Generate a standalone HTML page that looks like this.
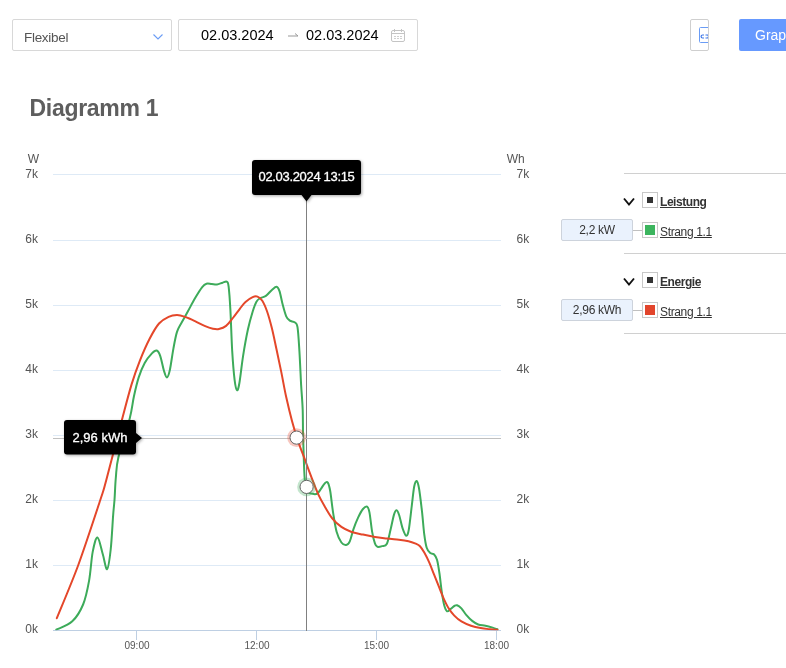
<!DOCTYPE html>
<html lang="de">
<head>
<meta charset="utf-8">
<title>Diagramm 1</title>
<style>
html,body{margin:0;padding:0;background:#fff;}
body{width:786px;height:668px;position:relative;overflow:hidden;font-family:"Liberation Sans",sans-serif;color:#555;}
.abs{position:absolute;box-sizing:border-box;}
.select{left:12px;top:19px;width:160px;height:32px;border:1px solid #d8d8d8;border-radius:2px;background:#fff;}
.select span{position:absolute;left:11px;top:10px;font-size:13.5px;line-height:16px;color:#555;letter-spacing:-0.3px;}
.range{left:178px;top:19px;width:240px;height:32px;border:1px solid #d8d8d8;border-radius:2px;background:#fff;}
.range .d{position:absolute;top:7px;font-size:14.5px;line-height:17px;color:#000;}
.iconbtn{left:690px;top:19px;width:19px;height:32px;border:1px solid #cfcfcf;border-radius:2px;background:#fff;overflow:hidden;}
.btn{left:739px;top:19px;width:60px;height:32px;background:#6699ff;border-radius:2px 0 0 2px;color:#fff;font-size:14px;line-height:32px;padding-left:16px;white-space:nowrap;}
h1{position:absolute;left:29.5px;top:94px;margin:0;font-size:23px;line-height:28px;font-weight:bold;color:#5e5e5e;letter-spacing:-0.3px;}
.ax{font-size:12px;fill:#555;font-family:"Liberation Sans",sans-serif;}
.axx{font-size:10px;fill:#555;font-family:"Liberation Sans",sans-serif;}
.tip{font-size:13px;fill:#fff;stroke:#fff;stroke-width:0.3px;font-family:"Liberation Sans",sans-serif;}
.sep{left:624px;width:170px;height:1px;background:#d0d0d0;}
.chk{width:16px;height:16px;border:1px solid #c8c8c8;background:#fff;left:642px;}
.chk i{position:absolute;display:block;}
.lbl{left:660px;font-size:12px;line-height:15px;color:#333;text-decoration:underline;white-space:nowrap;letter-spacing:-0.35px;}
.lbl.b{font-weight:bold;letter-spacing:-0.45px;}
.val{left:561px;width:72px;height:22px;border:1px solid #cdd3dc;border-radius:2px;background:#eaf2fd;font-size:12px;line-height:21px;text-align:center;color:#333;letter-spacing:-0.3px;}
.conn{left:633px;width:9px;height:1px;background:#c0c0c0;}
</style>
</head>
<body>
<div class="abs select"><span>Flexibel</span>
<svg class="abs" style="left:139px;top:13px" width="12" height="8" viewBox="0 0 12 8"><path d="M1.5 1.5 L6 6 L10.5 1.5" fill="none" stroke="#6a9cf5" stroke-width="1.1"/></svg>
</div>
<div class="abs range">
<span class="d" style="left:22px">02.03.2024</span>
<svg class="abs" style="left:108px;top:11px" width="12" height="8" viewBox="0 0 12 8"><path d="M1 5 H11 M8 2.5 L11 5" fill="none" stroke="#999" stroke-width="1"/></svg>
<span class="d" style="left:127px">02.03.2024</span>
<svg class="abs" style="left:212px;top:9px" width="14" height="13" viewBox="0 0 14 13"><rect x="0.5" y="1.5" width="13" height="11" rx="1.5" fill="none" stroke="#c4c4c4"/><path d="M0.5 4.5 H13.5 M3.5 0 V3 M10.5 0 V3" stroke="#c4c4c4" fill="none"/><path d="M3 7.5 H5 M6 7.5 H8 M9 7.5 H11 M3 9.5 H5 M6 9.5 H8 M9 9.5 H11" stroke="#d0d0d0" fill="none"/></svg>
</div>
<div class="abs iconbtn">
<svg class="abs" style="left:8px;top:7px" width="12" height="17" viewBox="0 0 12 17"><rect x="0.5" y="0.5" width="14" height="15" rx="1" fill="none" stroke="#6a9cf5"/><path d="M5 8 H3.6 a1.5 1.5 0 0 0 0 3 H5 M6.5 8 H8 a1.5 1.5 0 0 1 0 3 H6.5" stroke="#3f78e8" stroke-width="1.2" fill="none"/></svg>
</div>
<div class="abs btn">Graph</div>
<h1>Diagramm 1</h1>

<svg class="abs" style="left:0;top:140px" width="560" height="528" viewBox="0 140 560 528">
<defs><clipPath id="cp"><rect x="53" y="170" width="448" height="460.3"/></clipPath><filter id="sh" x="-10%" y="-10%" width="130%" height="140%"><feDropShadow dx="1" dy="1" stdDeviation="1.5" flood-color="#000" flood-opacity="0.35"/></filter></defs>
<g stroke="#deeaf6" stroke-width="1" shape-rendering="crispEdges">
<path d="M53 174.5H501 M53 240.5H501 M53 305.5H501 M53 370.5H501 M53 435.5H501 M53 500.5H501 M53 565.5H501"/>
</g>
<path d="M53 630.5H501 M136.5 630.5V640 M256.5 630.5V640 M376.5 630.5V640 M496.5 630.5V640" stroke="#becfe3" stroke-width="1" fill="none" shape-rendering="crispEdges"/>
<g class="ax" text-anchor="end">
<text x="39" y="162.8">W</text>
<text x="38" y="177.7">7k</text><text x="38" y="242.7">6k</text><text x="38" y="307.7">5k</text><text x="38" y="372.7">4k</text><text x="38" y="437.7">3k</text><text x="38" y="502.7">2k</text><text x="38" y="567.7">1k</text><text x="38" y="632.7">0k</text>
</g>
<g class="ax" text-anchor="start">
<text x="506.8" y="162.8">Wh</text>
<text x="516.6" y="177.7">7k</text><text x="516.6" y="242.7">6k</text><text x="516.6" y="307.7">5k</text><text x="516.6" y="372.7">4k</text><text x="516.6" y="437.7">3k</text><text x="516.6" y="502.7">2k</text><text x="516.6" y="567.7">1k</text><text x="516.6" y="632.7">0k</text>
</g>
<g class="axx" text-anchor="middle">
<text x="137" y="649.1">09:00</text><text x="257" y="649.1">12:00</text><text x="376.5" y="649.1">15:00</text><text x="496.5" y="649.1">18:00</text>
</g>
<g clip-path="url(#cp)"><path d="M56.3,629.7 C59.0,628.3 67.8,625.5 72.3,621.3 C76.8,617.1 80.3,611.3 83.1,604.5 C85.9,597.7 87.5,589.4 89.1,580.6 C90.7,571.8 91.3,559.1 92.7,551.9 C94.1,544.7 95.8,537.1 97.5,537.5 C99.2,537.9 101.2,549.0 102.8,554.3 C104.4,559.6 105.8,569.9 107.1,569.1 C108.4,568.3 109.7,558.4 110.7,549.5 C111.7,540.6 112.5,524.1 113.1,515.9 C113.7,507.6 114.0,506.3 114.5,500.0 C115.0,493.7 115.1,485.1 115.8,478.0 C116.5,470.9 116.1,467.0 118.4,457.2 C120.7,447.4 127.0,429.1 129.6,419.0 C132.2,408.9 132.4,403.4 133.9,396.5 C135.4,389.6 136.9,383.0 138.7,377.4 C140.5,371.8 142.5,367.0 144.7,363.0 C146.9,359.0 149.9,355.5 151.9,353.4 C153.9,351.3 155.2,350.1 156.6,350.5 C158.0,350.9 159.0,352.5 160.2,355.8 C161.4,359.1 162.7,366.6 163.8,370.2 C164.9,373.8 165.9,377.4 166.9,377.4 C167.9,377.4 168.7,375.0 169.8,370.2 C170.9,365.4 172.2,355.0 173.4,348.6 C174.6,342.2 175.6,336.3 177.0,331.9 C178.4,327.5 180.0,325.7 181.8,322.3 C183.6,318.9 185.6,315.5 187.8,311.5 C190.0,307.5 192.6,302.4 195.0,298.3 C197.4,294.2 200.3,289.5 202.2,287.1 C204.1,284.7 204.9,284.2 206.5,283.7 C208.1,283.2 209.9,283.9 211.7,284.0 C213.4,284.1 215.2,284.6 217.0,284.4 C218.8,284.2 221.0,283.1 222.6,282.7 C224.2,282.2 225.7,281.1 226.7,281.7 C227.7,282.3 228.0,281.6 228.6,286.3 C229.2,291.0 229.8,299.2 230.4,310.0 C231.0,320.8 231.5,339.4 232.2,351.0 C232.9,362.6 233.8,373.3 234.6,379.8 C235.4,386.3 236.2,389.6 237.0,390.1 C237.8,390.6 238.4,388.7 239.4,383.0 C240.4,377.3 241.7,364.7 243.1,355.8 C244.5,346.9 246.3,336.9 247.9,329.5 C249.5,322.1 251.3,316.1 252.7,311.5 C254.1,306.9 255.1,304.1 256.3,301.9 C257.5,299.7 258.3,299.3 259.9,298.3 C261.5,297.3 263.9,297.3 265.9,295.9 C267.9,294.5 270.1,291.4 271.9,289.9 C273.7,288.4 275.3,286.6 276.6,286.8 C277.9,287.0 278.5,288.2 279.5,291.1 C280.5,294.0 281.5,300.1 282.6,304.3 C283.7,308.5 285.0,313.6 286.2,316.3 C287.4,319.0 288.4,319.6 289.8,320.6 C291.2,321.6 293.3,321.2 294.6,322.3 C295.9,323.4 296.7,322.3 297.5,327.1 C298.3,331.9 298.8,341.4 299.4,351.0 C300.0,360.6 300.6,374.8 301.1,384.6 C301.7,394.4 302.4,401.4 302.7,410.0 C303.0,418.6 302.8,425.6 303.1,435.9 C303.4,446.2 303.9,463.5 304.3,471.9 C304.7,480.3 304.9,482.8 305.5,486.2 C306.1,489.6 306.5,490.9 307.9,492.2 C309.3,493.5 312.3,493.9 313.9,494.1 C315.5,494.3 316.3,494.3 317.5,493.4 C318.7,492.5 319.9,490.3 321.1,488.6 C322.3,486.9 323.6,484.4 324.7,483.4 C325.8,482.4 326.9,481.3 327.8,482.6 C328.7,483.9 329.3,486.0 330.2,491.0 C331.1,496.0 332.0,505.8 333.1,512.6 C334.2,519.4 335.2,526.7 336.6,531.7 C338.0,536.7 339.8,540.3 341.4,542.5 C343.0,544.7 344.8,545.1 346.2,544.9 C347.6,544.7 348.6,543.9 349.8,541.3 C351.0,538.7 352.0,533.3 353.4,529.3 C354.8,525.3 356.6,520.8 358.2,517.4 C359.8,514.0 361.5,510.8 363.0,509.0 C364.5,507.2 366.0,506.0 367.1,506.6 C368.2,507.2 368.7,508.4 369.5,512.6 C370.3,516.8 371.2,526.5 372.1,531.7 C373.0,536.9 374.1,541.2 375.0,543.7 C375.9,546.2 376.2,546.4 377.4,546.8 C378.6,547.2 380.6,546.6 382.2,546.1 C383.8,545.6 385.5,546.5 386.9,543.7 C388.3,540.9 389.4,534.4 390.6,529.5 C391.8,524.6 393.0,517.8 394.0,514.6 C395.0,511.4 395.7,510.1 396.6,510.2 C397.5,510.3 398.2,512.2 399.2,515.2 C400.2,518.2 401.4,525.0 402.6,528.4 C403.8,531.8 405.2,535.6 406.2,535.8 C407.2,536.0 407.9,534.6 408.8,529.6 C409.7,524.6 410.9,512.8 411.8,505.6 C412.7,498.4 413.4,490.6 414.2,486.5 C415.0,482.4 415.9,480.7 416.7,481.0 C417.5,481.3 418.1,483.4 419.0,488.3 C419.9,493.2 421.0,503.0 421.9,510.7 C422.8,518.4 423.5,528.5 424.3,534.7 C425.1,540.9 425.7,544.7 426.7,547.8 C427.7,550.9 429.1,552.0 430.3,553.1 C431.5,554.2 432.8,553.2 433.9,554.3 C435.0,555.4 436.1,556.7 437.0,559.8 C437.9,562.9 438.6,567.6 439.4,573.0 C440.2,578.4 441.0,586.8 441.8,592.2 C442.6,597.6 443.3,602.1 444.2,605.3 C445.1,608.5 446.0,610.7 447.1,611.3 C448.2,611.9 449.5,609.8 450.7,608.9 C451.9,608.0 453.2,606.6 454.3,606.0 C455.4,605.4 455.9,604.9 457.1,605.3 C458.3,605.7 459.9,606.8 461.4,608.4 C462.9,610.0 464.4,612.8 466.2,614.9 C468.0,617.0 470.2,619.3 472.2,620.9 C474.2,622.5 476.0,623.7 478.2,624.5 C480.4,625.3 483.0,625.2 485.4,625.7 C487.8,626.2 490.6,627.0 492.6,627.6 C494.6,628.2 496.6,629.0 497.4,629.3" fill="none" stroke="#3dab5a" stroke-width="2" stroke-linejoin="round" stroke-linecap="round"/>
<path d="M56.8,618.2 C60.4,609.3 71.0,584.7 78.3,565.0 C85.5,545.3 95.6,514.2 100.3,500.0 C105.0,485.8 102.7,493.3 106.3,480.0 C109.9,466.7 117.7,435.9 121.9,420.0 C126.1,404.1 128.5,394.5 131.5,384.6 C134.5,374.7 136.9,368.2 139.9,360.6 C142.9,353.0 146.3,345.2 149.5,339.0 C152.7,332.8 155.8,327.2 159.0,323.5 C162.2,319.8 165.6,318.2 168.6,316.8 C171.6,315.4 174.2,315.1 177.0,315.1 C179.8,315.1 182.4,316.0 185.4,317.0 C188.4,318.0 191.8,319.6 195.0,321.1 C198.2,322.6 201.6,324.6 204.6,325.9 C207.6,327.2 210.5,328.2 212.9,328.7 C215.3,329.2 216.7,329.5 218.9,329.0 C221.1,328.5 223.7,327.8 226.1,325.9 C228.5,324.0 231.0,320.4 233.3,317.5 C235.6,314.6 238.0,311.2 240.0,308.6 C242.0,306.0 243.4,303.8 245.5,301.9 C247.6,300.0 250.7,298.0 252.7,297.1 C254.7,296.2 255.9,296.0 257.5,296.6 C259.1,297.2 260.7,298.2 262.3,300.7 C263.9,303.2 265.5,306.9 267.1,311.5 C268.7,316.1 270.3,321.9 271.9,328.3 C273.5,334.7 275.0,342.4 276.6,349.8 C278.2,357.2 279.8,364.7 281.4,372.6 C283.0,380.5 284.4,388.9 286.2,397.0 C288.0,405.1 290.0,413.5 292.0,421.0 C294.0,428.5 296.1,435.4 298.3,441.9 C300.5,448.4 302.9,454.1 305.0,459.9 C307.1,465.7 309.0,470.8 311.2,476.6 C313.4,482.4 316.0,489.4 318.4,494.6 C320.8,499.8 323.2,503.8 325.5,507.8 C327.8,511.8 329.8,515.4 332.4,518.6 C335.0,521.8 338.3,524.7 341.4,526.9 C344.5,529.1 347.4,530.4 351.0,531.7 C354.6,533.0 359.0,533.7 363.0,534.6 C367.0,535.5 371.0,536.3 375.0,537.0 C379.0,537.7 382.9,538.1 386.9,538.6 C390.9,539.1 395.3,539.4 398.9,539.8 C402.5,540.2 405.7,540.6 408.5,541.2 C411.3,541.8 413.8,542.8 415.7,543.6 C417.6,544.4 418.6,544.7 420.0,546.2 C421.4,547.7 422.8,549.9 424.3,552.6 C425.8,555.3 427.5,558.6 429.1,562.2 C430.7,565.8 432.3,570.2 433.9,574.2 C435.5,578.2 437.1,582.2 438.7,586.2 C440.3,590.2 441.9,594.5 443.5,598.1 C445.1,601.7 446.5,604.8 448.3,607.7 C450.1,610.6 452.1,613.3 454.3,615.6 C456.5,617.9 458.6,619.7 461.4,621.4 C464.2,623.1 467.8,624.6 471.0,625.7 C474.2,626.8 477.4,627.5 480.6,628.1 C483.8,628.7 487.4,629.0 490.2,629.3 C493.0,629.6 496.2,629.7 497.4,629.8" fill="none" stroke="#e4472a" stroke-width="2" stroke-linejoin="round" stroke-linecap="round"/></g>
<path d="M306.5 200V630.5" stroke="#808080" stroke-width="1" shape-rendering="crispEdges"/>
<path d="M53 438.5H501" stroke="#c0c0c0" stroke-width="1" shape-rendering="crispEdges"/>
<circle cx="296.6" cy="437.6" r="9.4" fill="#e4472a" fill-opacity="0.3"/>
<circle cx="296.6" cy="437.6" r="6.6" fill="#fff" stroke="#666" stroke-width="1"/>
<circle cx="306.6" cy="486.9" r="9.4" fill="#3dab5a" fill-opacity="0.3"/>
<circle cx="306.6" cy="486.9" r="6.6" fill="#fff" stroke="#666" stroke-width="1"/>
<g filter="url(#sh)">
<path d="M255 160H358a3 3 0 0 1 3 3V192a3 3 0 0 1 -3 3H311.5L306.5 201.5L301.5 195H255a3 3 0 0 1 -3 -3V163a3 3 0 0 1 3 -3Z" fill="#000"/>
<path d="M67 420H133a3 3 0 0 1 3 3V433L142 438L136 443V451.5a3 3 0 0 1 -3 3H67a3 3 0 0 1 -3 -3V423a3 3 0 0 1 3 -3Z" fill="#000"/>
</g>
<text class="tip" x="306.5" y="181" text-anchor="middle" letter-spacing="-0.33">02.03.2024 13:15</text>
<text class="tip" x="100" y="441.6" text-anchor="middle">2,96 kWh</text>
</svg>

<div class="abs sep" style="top:173px"></div>
<svg class="abs" style="left:622px;top:196px" width="14" height="11" viewBox="0 0 14 11"><path d="M2 2.5 L7 8.5 L12 2.5" fill="none" stroke="#111" stroke-width="1.9"/></svg>
<div class="abs chk" style="top:192px"><i style="left:4px;top:4px;width:6px;height:6px;background:#333"></i></div>
<div class="abs lbl b" style="top:195px">Leistung</div>
<div class="abs val" style="top:219px">2,2 kW</div>
<div class="abs conn" style="top:230px"></div>
<div class="abs chk" style="top:222px"><i style="left:2px;top:2px;width:10px;height:10px;background:#3cb55e"></i></div>
<div class="abs lbl" style="top:224.6px">Strang 1.1</div>
<div class="abs sep" style="top:253px"></div>
<svg class="abs" style="left:622px;top:276px" width="14" height="11" viewBox="0 0 14 11"><path d="M2 2.5 L7 8.5 L12 2.5" fill="none" stroke="#111" stroke-width="1.9"/></svg>
<div class="abs chk" style="top:272px"><i style="left:4px;top:4px;width:6px;height:6px;background:#333"></i></div>
<div class="abs lbl b" style="top:275px">Energie</div>
<div class="abs val" style="top:299px">2,96 kWh</div>
<div class="abs conn" style="top:310px"></div>
<div class="abs chk" style="top:302px"><i style="left:2px;top:2px;width:10px;height:10px;background:#e2452c"></i></div>
<div class="abs lbl" style="top:304.6px">Strang 1.1</div>
<div class="abs sep" style="top:333px"></div>
</body>
</html>
